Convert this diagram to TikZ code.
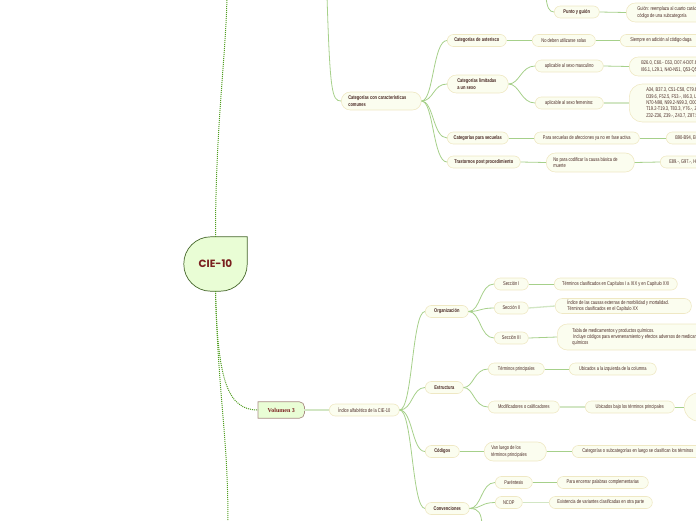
\documentclass[tikz,border=0pt]{standalone}
\usepackage{fontspec}
\usetikzlibrary{backgrounds}
\newfontfamily\mapfont[FakeStretch=0.74]{Liberation Sans}
\newfontfamily\rootfont{Poppins}
\newfontfamily\volfont{Liberation Serif}
\definecolor{nodefill}{HTML}{FBFDEF}
\definecolor{nodeedge}{HTML}{EFE8C4}
\definecolor{textbrown}{HTML}{4A2A25}
\definecolor{linkgreen}{HTML}{A6D08A}
\definecolor{linkpale}{HTML}{D2E6C4}
\definecolor{rootfill}{HTML}{E9FDD5}
\definecolor{rootedge}{HTML}{45662A}
\definecolor{roottext}{HTML}{7A1F1F}
\definecolor{voledge}{HTML}{A88C82}
\definecolor{dotgreen}{HTML}{529E22}
\tikzset{
  leaf/.style={draw=nodeedge, fill=nodefill, line width=0.6pt, rounded corners=6pt,
    anchor=west, minimum height=12pt, inner xsep=0pt, inner ysep=1pt, text=textbrown,
    font=\mapfont\fontsize{5.4}{6.4}\selectfont},
  topic/.style={leaf, font=\mapfont\bfseries\fontsize{5.4}{6.4}\selectfont},
  link/.style={draw=linkgreen, line width=0.8pt},
  pale/.style={draw=linkpale, line width=1.3pt},
  dotlink/.style={draw=dotgreen, line width=1pt, densely dotted},
}
\begin{document}
\begin{tikzpicture}[x=1pt, y=-1pt]
\useasboundingbox (0,0) rectangle (696,520);

  % -- Root --
  \node[minimum width=63pt, minimum height=54pt, text=roottext,
    font=\rootfont\bfseries\fontsize{10.5}{12}\selectfont] (root) at (215.5,264) {CIE-10};
  \begin{scope}[on background layer]
    \filldraw[fill=rootfill, draw=rootedge, line width=0.7pt] (root.east) -- (root.north east) -- (root.north)
      [rounded corners=27pt] -- (root.north west) -- (root.south west) -- (root.south east) -- (root.east);
  \end{scope}
  \coordinate (rootUp) at (227,-4);
  \coordinate (rootDown) at (228,524);
  \draw[dotlink] (root.north) .. controls +(0,-110) and +(-1,60) .. (rootUp);
  \draw[dotlink] (root.south) .. controls +(3,110) and +(0,-90) .. (rootDown);

  % -- Top: punto y guion --
  \coordinate (puntoUp) at (546,-3);
  \node[topic, minimum width=45pt] (punto) at (554,12) {Punto y guión};
  \node[leaf, align=flush left, text width=100pt, inner xsep=11pt, minimum height=19pt, rounded corners=9pt]
    (guion) at (626,12.5) {Guión: reemplaza al cuarto carácter del\\código de una subcategoría};
  \draw[link] (puntoUp) .. controls +(1,10) and +(-5,0) .. (punto.west);
  \draw[link] (punto.east) -- (guion.west);

  % -- Categorias con caracteristicas comunes --
  \coordinate (cccUp) at (327,-4);
  \node[topic, align=flush left, text width=66pt, inner xsep=7pt, minimum height=18pt, rounded corners=9pt]
    (ccc) at (341,101) {Categorías con características\\comunes};
  \draw[link] (cccUp) .. controls +(3,96) and +(-9,0) .. (ccc.west);

  \node[topic, minimum width=59pt] (ast) at (447,40.5) {Categorías de asterisco};
  \node[leaf, minimum width=63pt] (nosol) at (532,40.5) {No deben utilizarse solas};
  \node[leaf, align=flush left, text width=80pt, inner xsep=10pt] (daga) at (620,40.5) {Siempre en adición al código daga};

  \node[topic, align=flush left, text width=41pt, inner xsep=10pt, minimum height=18pt, rounded corners=9pt]
    (lim) at (447,84) {Categorías limitadas\\a un sexo};
  \node[leaf, minimum width=68pt] (masc) at (535,66) {aplicable al sexo masculino};
  \node[leaf, align=flush left, text width=150pt, inner xsep=12pt, minimum height=19pt, rounded corners=9pt]
    (mcodes) at (629,66.5) {B26.0, C60.- C63, D07.4-D07.6, D17.6, D29.-, D40.-, E29.-,\\I86.1, L29.1, N40-N51, Q53-Q55, R86, S31.2-S31.3, Z12.5};
  \node[leaf, minimum width=68pt] (fem) at (535,103) {aplicable al sexo femenino:};
  \node[leaf, align=flush left, text width=150pt, inner xsep=17pt, minimum height=38pt, rounded corners=13pt]
    (fcodes) at (629,103) {A34, B37.3, C51-C58, C79.6, D06.-, D07.0-D07.3,\\D39.6, F52.5, F53.-, I86.3, L29.2, L70.5, M80.0,\\N70-N98, N99.2-N99.3, O00-O99, P54.6, Q50-Q52,\\T19.2-T19.3, T83.3, Y76.-, Z01.4, Z12.4, Z30.1,\\Z32-Z36, Z39.-, Z43.7, Z87.5, Z97.5};

  \node[topic, minimum width=61pt] (sec) at (447,138) {Categorías para secuelas};
  \node[leaf, minimum width=105pt] (fase) at (534,138) {Para secuelas de afecciones ya no en fase activa};
  \node[leaf, align=flush left, text width=90pt, inner xsep=9pt] (secc) at (666,138) {B90-B94, E64.-, E68, G09, I69.-};

  \node[topic, minimum width=73pt] (pos) at (447,162) {Trastornos post procedimiento};
  \node[leaf, align=flush left, text width=74pt, inner xsep=7pt, minimum height=19pt, rounded corners=9pt]
    (caus) at (546,162.5) {No para codificar la causa básica de\\muerte};
  \node[leaf, align=flush left, text width=90pt, inner xsep=9pt] (posc) at (660,162) {E89.-, G97.-, H59.-, H95.-};

  \draw[link] (ccc.east) .. controls +(12,0) and +(-14,0) .. (ast.west);
  \draw[link] (ccc.east) .. controls +(12,0) and +(-14,0) .. (lim.west);
  \draw[link] (ccc.east) .. controls +(12,0) and +(-14,0) .. (sec.west);
  \draw[link] (ccc.east) .. controls +(12,0) and +(-14,0) .. (pos.west);
  \draw[link] (ast.east) -- (nosol.west);
  \draw[link] (nosol.east) -- (daga.west);
  \draw[link] (lim.east) .. controls +(11,0) and +(-14,0) .. (masc.west);
  \draw[link] (lim.east) .. controls +(11,0) and +(-14,0) .. (fem.west);
  \draw[link] (masc.east) -- (mcodes.west);
  \draw[pale] (fem.east) -- (fcodes.west);
  \draw[link] (sec.east) -- (fase.west);
  \draw[link] (fase.east) -- (secc.west);
  \draw[link] (pos.east) -- (caus.west);
  \draw[link] (caus.east) -- (posc.west);

  % -- Volumen 3 --
  \node[anchor=west, minimum width=46pt, minimum height=16pt, text=roottext,
    font=\volfont\bfseries\fontsize{6}{7}\selectfont] (vol) at (258,410) {Volumen 3};
  \begin{scope}[on background layer]
    \filldraw[fill=rootfill, draw=voledge, line width=0.7pt] (vol.north) -- (vol.north west) -- (vol.south west) -- (vol.south)
      [rounded corners=5pt] -- (vol.south east) -- (vol.north east) -- (vol.north);
  \end{scope}
  \draw[dotlink] (root.south) .. controls +(2,90) and +(-30,0) .. (vol.west);
  \node[leaf, minimum width=70pt] (idx) at (329,410) {Índice alfabético de la CIE-10};
  \draw[pale] (vol.east) -- (idx.west);

  % -- Organizacion --
  \node[topic, minimum width=43pt] (org) at (425,311.5) {Organización};
  \node[leaf, minimum width=34pt] (s1) at (494,284) {Sección I};
  \node[leaf, minimum width=34pt] (s2) at (494,308) {Sección II};
  \node[leaf, minimum width=34pt] (s3) at (494,338) {Sección III};
  \node[leaf, minimum width=123pt] (t1) at (554,284) {Términos clasificados en Capítulos I a XIX y en Capítulo XXI};
  \node[leaf, align=flush left, text width=112pt, inner xsep=12pt, minimum height=15pt, rounded corners=7pt]
    (t2) at (555,306) {Índice de las causas externas de morbilidad y mortalidad.\\Términos clasificados en el Capítulo XX};
  \node[leaf, align=flush left, text width=170pt, inner xsep=15pt, minimum height=26pt, rounded corners=10pt]
    (t3) at (557,337) {Tabla de medicamentos y productos químicos.\\\hspace*{1pt}Incluye códigos para envenenamiento y efectos adversos de medicamentos y\\químicos};
  \draw[link] (org.east) .. controls +(12,0) and +(-14,0) .. (s1.west);
  \draw[link] (org.east) .. controls +(12,0) and +(-14,0) .. (s2.west);
  \draw[link] (org.east) .. controls +(12,0) and +(-14,0) .. (s3.west);
  \draw[link] (s1.east) -- (t1.west);
  \draw[pale] (s2.east) -- (t2.west);
  \draw[link] (s3.east) -- (t3.west);

  % -- Estructura --
  \node[topic, minimum width=38pt] (est) at (425,387.5) {Estructura};
  \node[leaf, minimum width=56pt] (tp) at (488,369) {Términos principales};
  \node[leaf, minimum width=87pt] (ub1) at (569,369) {Ubicados a la izquierda de la columna};
  \node[leaf, minimum width=71pt] (mod) at (488,407) {Modificadores o calificadores};
  \node[leaf, minimum width=89pt] (ub2) at (585,407) {Ubicados bajo los términos principales};
  \node[leaf, minimum width=60pt, minimum height=28pt, rounded corners=14pt] (more) at (684,407) {};
  \draw[link] (est.east) .. controls +(10,0) and +(-14,0) .. (tp.west);
  \draw[link] (est.east) .. controls +(10,0) and +(-14,0) .. (mod.west);
  \draw[link] (tp.east) -- (ub1.west);
  \draw[pale] (mod.east) -- (ub2.west);
  \draw[link] (ub2.east) -- (more.west);

  % -- Codigos --
  \node[topic, minimum width=34pt] (cod) at (425,451.5) {Códigos};
  \node[leaf, align=flush left, text width=48pt, inner xsep=7pt, minimum height=19pt, rounded corners=9pt]
    (van) at (484,451.5) {Van luego de los\\términos principales};
  \node[leaf, align=flush left, text width=150pt, inner xsep=10pt] (cat) at (572,451.5) {Categorías o subcategorías en luego se clasifican los términos};
  \draw[link] (cod.east) -- (van.west);
  \draw[link] (van.east) -- (cat.west);

  % -- Convenciones --
  \coordinate (convDown) at (482,524);
  \node[topic, minimum width=44pt] (conv) at (425,508.5) {Convenciones};
  \node[leaf, minimum width=37pt] (par) at (495,482.5) {Paréntesis};
  \node[leaf, minimum width=91pt] (enc) at (557,482.5) {Para encerrar palabras complementarias};
  \node[leaf, minimum width=27pt] (ncop) at (495,502.5) {NCOP};
  \node[leaf, minimum width=103pt] (exi) at (549,502.5) {Existencia de variantes clasificadas en otra parte};
  \draw[link] (conv.east) .. controls +(12,0) and +(-14,0) .. (par.west);
  \draw[link] (conv.east) .. controls +(12,0) and +(-14,0) .. (ncop.west);
  \draw[link] (conv.east) .. controls +(10,0) and +(-1,-10) .. (convDown);
  \draw[link] (par.east) -- (enc.west);
  \draw[pale] (ncop.east) -- (exi.west);

  \draw[link] (idx.east) .. controls +(13,0) and +(-13,0) .. (org.west);
  \draw[link] (idx.east) .. controls +(13,0) and +(-13,0) .. (est.west);
  \draw[link] (idx.east) .. controls +(13,0) and +(-13,0) .. (cod.west);
  \draw[link] (idx.east) .. controls +(13,0) and +(-13,0) .. (conv.west);

\end{tikzpicture}
\end{document}
